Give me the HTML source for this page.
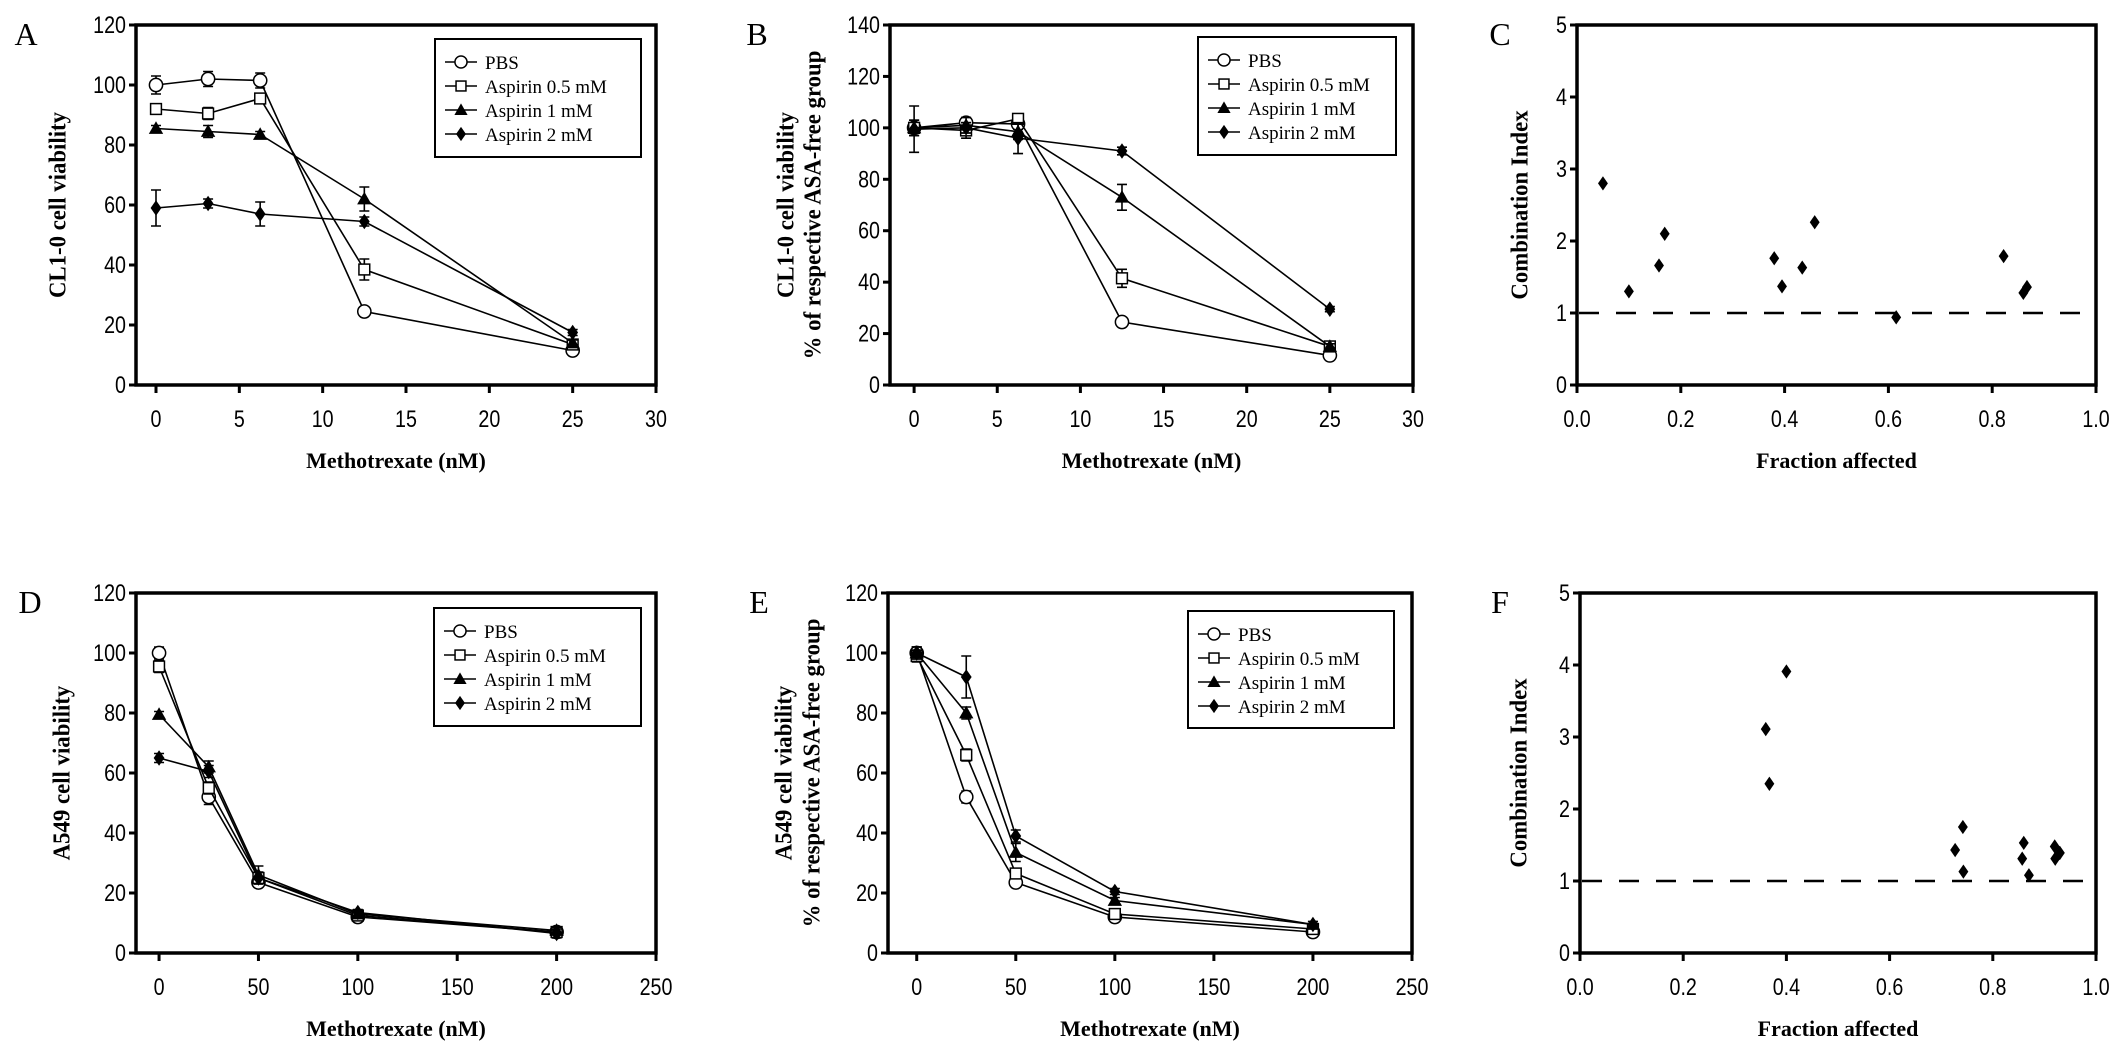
<!DOCTYPE html>
<html><head><meta charset="utf-8"><style>
html,body{margin:0;padding:0;background:#fff;}
svg{display:block;}
text{fill:#000;}
.tick{font-family:"Liberation Sans",sans-serif;font-size:24px;}
.ttl{font-family:"Liberation Serif",serif;font-size:22px;font-weight:bold;}
.leg{font-family:"Liberation Serif",serif;font-size:19px;}
.let{font-family:"Liberation Serif",serif;font-size:32px;}
</style></head><body>
<svg id="fig" width="2126" height="1059" viewBox="0 0 2126 1059" xmlns="http://www.w3.org/2000/svg"></svg>
<script>
// ---- data ----
const doseA = [0, 3.125, 6.25, 12.5, 25];
const doseD = [0, 25, 50, 100, 200];
const seriesNames = ["PBS", "Aspirin 0.5 mM", "Aspirin 1 mM", "Aspirin 2 mM"];
const markers = ["circle", "square", "triangle", "diamond"];
const aPBS = [100, 102, 101.5, 24.5, 11.5];
const aAsp05 = [92, 90.5, 95.5, 38.5, 13.5];
const aAsp1 = [85.5, 84.5, 83.5, 62, 14];
const aAsp2 = [59, 60.5, 57, 54.5, 17.5];
const aErrPBS = [3, 2.5, 2.5, 1, 1];
const aErr05 = [1, 2, 1.5, 3.5, 1];
const aErr1 = [1, 2, 1, 4, 1];
const aErr2 = [6, 1.5, 4, 1.5, 1];
const bPBS = [100, 102, 101.5, 24.5, 11.5];
const bAsp05 = [100, 99, 103.5, 41.5, 15];
const bAsp1 = [100, 101, 98.5, 73, 15];
const bAsp2 = [99.5, 100, 96, 91, 29.5];
const bErrPBS = [3, 2, 2, 1, 1];
const bErr05 = [2, 3, 1, 3.5, 1];
const bErr1 = [3, 3, 3, 5, 1];
const bErr2 = [9, 2, 6, 1.5, 1];
const cFa = [0.05, 0.1, 0.158, 0.169, 0.38, 0.395, 0.434, 0.458, 0.615, 0.822, 0.86, 0.867];
const cCI = [2.8, 1.3, 1.66, 2.1, 1.76, 1.37, 1.63, 2.26, 0.94, 1.79, 1.28, 1.36];
const dPBS = [100, 52, 23.5, 12, 7];
const dAsp05 = [95.5, 55, 25, 12.5, 7];
const dAsp1 = [79.5, 62, 26, 13, 7.5];
const dAsp2 = [65, 60.5, 25, 13.5, 6.5];
const dErrPBS = [2, 2.5, 1.5, 1, 1];
const dErr05 = [2, 2, 1.5, 1, 1];
const dErr1 = [1, 2, 3, 1, 1];
const dErr2 = [1.5, 2, 2, 1, 1.5];
const ePBS = [100, 52, 23.5, 12, 7];
const eAsp05 = [99, 66, 26.5, 13, 8];
const eAsp1 = [100, 80, 33.5, 17.5, 9.5];
const eAsp2 = [100, 92, 39, 20.5, 9.5];
const eErrPBS = [2, 2, 1, 1, 1];
const eErr05 = [2, 2, 1.5, 1, 1];
const eErr1 = [2, 2, 3, 1, 1];
const eErr2 = [2, 7, 2, 1, 1];
const fFa = [0.36, 0.367, 0.40, 0.727, 0.742, 0.743, 0.857, 0.86, 0.87, 0.92, 0.921, 0.93];
const fCI = [3.11, 2.35, 3.91, 1.43, 1.75, 1.13, 1.31, 1.53, 1.08, 1.48, 1.31, 1.39];
const ticksA = [0, 5, 10, 15, 20, 25, 30];
const ticksD = [0, 50, 100, 150, 200, 250];
const ticksFa = ["0.0", "0.2", "0.4", "0.6", "0.8", "1.0"];
const ticksY120 = [0, 20, 40, 60, 80, 100, 120];
const ticksY140 = [0, 20, 40, 60, 80, 100, 120, 140];
const ticksCI = [0, 1, 2, 3, 4, 5];

const NS = "http://www.w3.org/2000/svg";
const svg = document.getElementById("fig");
function mk(tag, attrs, parent, txt) {
  const e = document.createElementNS(NS, tag);
  for (const k in attrs) e.setAttribute(k, attrs[k]);
  if (txt !== undefined) e.textContent = txt;
  (parent || svg).appendChild(e);
  return e;
}
function marker(g, type, x, y, s) {
  let e;
  if (type === "circle") e = mk("circle", {cx: x, cy: y, r: s * 0.55, fill: "#fff", stroke: "#000", "stroke-width": 1.5}, g);
  else if (type === "square") e = mk("rect", {x: x - s * 0.45, y: y - s * 0.45, width: s * 0.9, height: s * 0.9, fill: "#fff", stroke: "#000", "stroke-width": 1.5}, g);
  else if (type === "triangle") e = mk("polygon", {points: `${x},${y - s * 0.6} ${x - s * 0.6},${y + s * 0.45} ${x + s * 0.6},${y + s * 0.45}`, fill: "#000"}, g);
  else e = mk("polygon", {points: `${x},${y - s * 0.65} ${x + s * 0.45},${y} ${x},${y + s * 0.65} ${x - s * 0.45},${y}`, fill: "#000"}, g);
  
  
}

function panel(cfg) {
  const g = mk("g", {});
  
  
  const L = cfg.left, R = cfg.right, T = cfg.top, B = cfg.top + 360;
  const sx = v => L + (v - cfg.xmin) / (cfg.xmax - cfg.xmin) * (R - L);
  const sy = v => B - (v - cfg.ymin) / (cfg.ymax - cfg.ymin) * (B - T);
  const frame = mk("rect", {x: L, y: T, width: R - L, height: B - T, fill: "none", stroke: "#000", "stroke-width": 3.5}, g);
  
  
  cfg.yticks.forEach(v => {
    const y = sy(v);
    mk("line", {x1: L - 7, x2: L, y1: y, y2: y, stroke: "#000", "stroke-width": 3}, g);
    const t = mk("text", {x: 0, y: 0, "text-anchor": "end", class: "tick", transform: `translate(${L - 10},${y + 8}) scale(0.82,1)`}, g, String(v));
    
    
  });
  cfg.xticks.forEach(v => {
    const x = sx(parseFloat(v));
    mk("line", {x1: x, x2: x, y1: B, y2: B + 8, stroke: "#000", "stroke-width": 3}, g);
    const t = mk("text", {x: 0, y: 0, "text-anchor": "middle", class: "tick", transform: `translate(${x},${B + 42}) scale(0.82,1)`}, g, String(v));
    
    
  });
  const xt = mk("text", {x: (L + R) / 2, y: B + 83, "text-anchor": "middle", class: "ttl"}, g, cfg.xtitle);
  
  
  cfg.ytitles.forEach((s, i) => {
    const cx = cfg.ytx[i], cy = (T + B) / 2;
    const yt = mk("text", {x: 0, y: 0, "text-anchor": "middle", class: "ttl", transform: `translate(${cx},${cy}) rotate(-90) scale(0.95,1)`, "dominant-baseline": "middle", style: "font-size:24px"}, g, s);
    
    
  });
  const lt = mk("text", {x: cfg.letx, y: T + 20, class: "let", "text-anchor": "middle"}, g, cfg.letter);
  
  

  if (cfg.series) {
    cfg.series.forEach((ys, si) => {
      const sg = mk("g", {}, g);
      
      
      const pts = ys.map((v, i) => sx(cfg.xs[i]) + "," + sy(v)).join(" ");
      const pl = mk("polyline", {points: pts, fill: "none", stroke: "#000", "stroke-width": 1.6}, sg);
      
      
      ys.forEach((v, i) => {
        const e = cfg.errs[si][i], x = sx(cfg.xs[i]);
        const eb = mk("path", {d: `M${x},${sy(v - e)}V${sy(v + e)}M${x - 5},${sy(v - e)}h10M${x - 5},${sy(v + e)}h10`, stroke: "#000", "stroke-width": 1.6, fill: "none"}, sg);
        
        
      });
      ys.forEach((v, i) => marker(sg, markers[si], sx(cfg.xs[i]), sy(v), 12));
    });
    const lg = mk("g", {}, g);
    
    
    const [lx1, ly1, lx2, ly2] = cfg.legend;
    mk("rect", {x: lx1, y: ly1, width: lx2 - lx1, height: ly2 - ly1, fill: "#fff", stroke: "#000", "stroke-width": 2}, lg);
    seriesNames.forEach((n, i) => {
      const y = ly1 + 23 + i * 24;
      const en = mk("g", {}, lg);
      
      
      mk("line", {x1: lx1 + 10, x2: lx1 + 42, y1: y, y2: y, stroke: "#000", "stroke-width": 1.6}, en);
      marker(en, markers[i], lx1 + 26, y, 11);
      mk("text", {x: lx1 + 50, y: y + 7, class: "leg"}, en, n);
    });
  }
  if (cfg.points) {
    const dl = mk("line", {x1: L + 2, x2: R - 6, y1: sy(1), y2: sy(1), stroke: "#000", "stroke-width": 2.5, "stroke-dasharray": "20 17"}, g);
    
    
    cfg.points[0].forEach((fa, i) => marker(g, "diamond", sx(fa), sy(cfg.points[1][i]), 11));
  }
}

panel({letter: "A", left: 136, right: 656, top: 25, xmin: -1.2, xmax: 30, ymin: 0, ymax: 120, xticks: ticksA, yticks: ticksY120,
  xtitle: "Methotrexate (nM)", ytitles: ["CL1-0 cell viability"], ytx: [60], letx: 26,
  xs: doseA, series: [aPBS, aAsp05, aAsp1, aAsp2], errs: [aErrPBS, aErr05, aErr1, aErr2], legend: [435, 39, 641, 157]});
panel({letter: "B", left: 890, right: 1413, top: 25, xmin: -1.45, xmax: 30, ymin: 0, ymax: 140, xticks: ticksA, yticks: ticksY140,
  xtitle: "Methotrexate (nM)", ytitles: ["CL1-0 cell viability", "% of respective ASA-free group"], ytx: [788, 815], letx: 757,
  xs: doseA, series: [bPBS, bAsp05, bAsp1, bAsp2], errs: [bErrPBS, bErr05, bErr1, bErr2], legend: [1198, 37, 1396, 155]});
panel({letter: "C", left: 1577, right: 2096, top: 25, xmin: 0, xmax: 1, ymin: 0, ymax: 5, xticks: ticksFa, yticks: ticksCI,
  xtitle: "Fraction affected", ytitles: ["Combination Index"], ytx: [1522], letx: 1500, points: [cFa, cCI]});
panel({letter: "D", left: 136, right: 656, top: 593, xmin: -11.6, xmax: 250, ymin: 0, ymax: 120, xticks: ticksD, yticks: ticksY120,
  xtitle: "Methotrexate (nM)", ytitles: ["A549 cell viability"], ytx: [64], letx: 30,
  xs: doseD, series: [dPBS, dAsp05, dAsp1, dAsp2], errs: [dErrPBS, dErr05, dErr1, dErr2], legend: [434, 608, 641, 726]});
panel({letter: "E", left: 888, right: 1412, top: 593, xmin: -14.5, xmax: 250, ymin: 0, ymax: 120, xticks: ticksD, yticks: ticksY120,
  xtitle: "Methotrexate (nM)", ytitles: ["A549 cell viability", "% of respective ASA-free group"], ytx: [786, 814], letx: 759,
  xs: doseD, series: [ePBS, eAsp05, eAsp1, eAsp2], errs: [eErrPBS, eErr05, eErr1, eErr2], legend: [1188, 611, 1394, 728]});
panel({letter: "F", left: 1580, right: 2096, top: 593, xmin: 0, xmax: 1, ymin: 0, ymax: 5, xticks: ticksFa, yticks: ticksCI,
  xtitle: "Fraction affected", ytitles: ["Combination Index"], ytx: [1521], letx: 1500, points: [fFa, fCI]});
</script>
</body></html>
